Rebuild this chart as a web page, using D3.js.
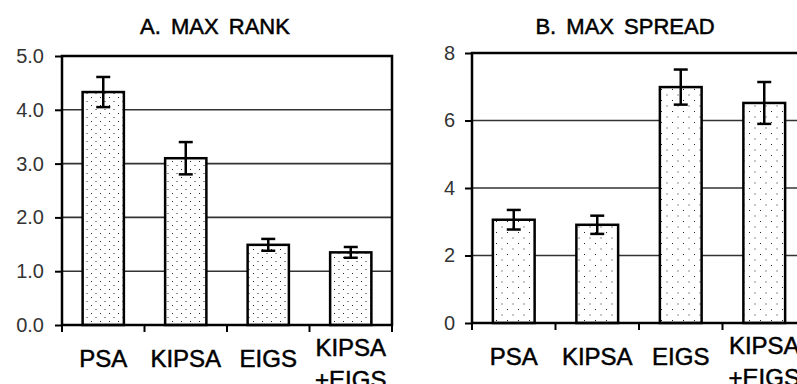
<!DOCTYPE html>
<html>
<head>
<meta charset="utf-8">
<script src="https://cdn.jsdelivr.net/npm/d3@7"></script>
<style>
    body { margin: 0; background: #fff; }
    svg { display: block; font-family: 'Liberation Sans', Arial, sans-serif; }
</style>
</head>
<body>
<div id="chart"></div>
<script>
// data
var categories = ['PSA', 'KIPSA', 'EIGS', 'KIPSA +EIGS'];
var categoryLines = [['PSA'], ['KIPSA'], ['EIGS'], ['KIPSA', '+EIGS']];

var rankMeans = [4.33, 3.10, 1.49, 1.35];
var rankErrors = [0.28, 0.30, 0.11, 0.10];
var rankTicks = [0, 1, 2, 3, 4, 5];

var spreadMeans = [3.06, 2.91, 6.99, 6.52];
var spreadErrors = [0.29, 0.27, 0.52, 0.62];
var spreadTicks = [0, 2, 4, 6, 8];

var svg = d3.select('#chart')
    .append('svg')
    .attr('width', 797)
    .attr('height', 384);

var defs = svg.append('defs');

function dotPattern(id, w, h) {
    var p = defs.append('pattern')
        .attr('id', id)
        .attr('patternUnits', 'userSpaceOnUse')
        .attr('width', w)
        .attr('height', h);
    p.append('rect').attr('width', w).attr('height', h).attr('fill', '#fff');
    p.append('rect').attr('x', 1).attr('y', 1).attr('width', 1).attr('height', 1).attr('fill', '#222');
    p.append('rect').attr('x', 1 + w / 2).attr('y', 1 + h / 2).attr('width', 1).attr('height', 1).attr('fill', '#222');
}
dotPattern('dotsA', 9, 8);
dotPattern('dotsB', 11, 11);

function drawPanel(opts) {
    var x = d3.scaleBand()
        .domain(categories)
        .range([opts.left, opts.right])
        .paddingInner(0.5)
        .paddingOuter(0.25);

    var y = d3.scaleLinear()
        .domain([0, d3.max(opts.ticks)])
        .range([opts.bottom, opts.top]);

    var g = svg.append('g');

    // gridlines
    g.append('g')
        .selectAll('line')
        .data(opts.ticks.slice(1, -1))
        .join('line')
        .attr('x1', opts.left)
        .attr('x2', opts.right)
        .attr('y1', d => y(d))
        .attr('y2', d => y(d))
        .attr('stroke', '#333')
        .attr('stroke-width', 1.6);

    // y axis
    var yAxis = d3.axisLeft(y)
        .tickValues(opts.ticks)
        .tickFormat(opts.format)
        .tickSize(7)
        .tickPadding(opts.tickPad);

    var ya = g.append('g')
        .attr('transform', `translate(${opts.left},0)`)
        .call(yAxis);
    ya.select('.domain').remove();
    ya.selectAll('line').attr('stroke', '#000').attr('stroke-width', 2);
    ya.selectAll('text')
        .attr('fill', '#333')
        .style('font-size', '20px')
        .style('font-family', 'Liberation Sans, Arial, sans-serif');

    // x ticks at category boundaries
    var step = x.step();
    var bounds = d3.range(categories.length + 1).map(i => opts.left + i * step);
    g.append('g')
        .selectAll('line')
        .data(bounds)
        .join('line')
        .attr('x1', d => d)
        .attr('x2', d => d)
        .attr('y1', opts.bottom)
        .attr('y2', opts.bottom + 7)
        .attr('stroke', '#000')
        .attr('stroke-width', 2);

    // bars
    g.append('g')
        .selectAll('rect')
        .data(opts.means)
        .join('rect')
        .attr('x', (d, i) => x(categories[i]))
        .attr('y', d => y(d))
        .attr('width', x.bandwidth())
        .attr('height', d => y(0) - y(d))
        .attr('fill', `url(#${opts.pattern})`)
        .attr('stroke', '#000')
        .attr('stroke-width', 2.5);

    // error bars
    var eb = g.append('g')
        .selectAll('g')
        .data(opts.means)
        .join('g')
        .attr('transform', (d, i) => `translate(${x(categories[i]) + x.bandwidth() / 2},0)`);
    eb.append('line')
        .attr('y1', (d, i) => y(d + opts.errors[i]))
        .attr('y2', (d, i) => y(d - opts.errors[i]))
        .attr('stroke', '#000')
        .attr('stroke-width', 2.5);
    eb.append('line')
        .attr('x1', -7).attr('x2', 7)
        .attr('y1', (d, i) => y(d + opts.errors[i]))
        .attr('y2', (d, i) => y(d + opts.errors[i]))
        .attr('stroke', '#000')
        .attr('stroke-width', 2.5);
    eb.append('line')
        .attr('x1', -7).attr('x2', 7)
        .attr('y1', (d, i) => y(d - opts.errors[i]))
        .attr('y2', (d, i) => y(d - opts.errors[i]))
        .attr('stroke', '#000')
        .attr('stroke-width', 2.5);

    // frame
    g.append('rect')
        .attr('x', opts.left)
        .attr('y', opts.top)
        .attr('width', opts.right - opts.left)
        .attr('height', opts.bottom - opts.top)
        .attr('fill', 'none')
        .attr('stroke', '#000')
        .attr('stroke-width', 2.5);

    // category labels
    var labels = g.append('g')
        .selectAll('text')
        .data(categoryLines)
        .join('text')
        .attr('text-anchor', 'middle')
        .attr('transform', (d, i) => `translate(${x(categories[i]) + x.bandwidth() / 2},0)`)
        .style('font-size', '24px')
        .attr('fill', '#000')
        .attr('stroke', '#000')
        .attr('stroke-width', 0.5);
    labels.selectAll('tspan')
        .data(d => d.map(t => ({ t: t, n: d.length })))
        .join('tspan')
        .attr('x', 0)
        .attr('y', (d, j) => d.n === 1 ? opts.bottom + 42 : opts.bottom + 31 + j * 32)
        .text(d => d.t);

    // title
    g.append('text')
        .attr('x', opts.titleX)
        .attr('y', 34)
        .attr('text-anchor', 'middle')
        .style('font-size', '22px')
        .style('word-spacing', '4px')
        .attr('fill', '#000')
        .attr('stroke', '#000')
        .attr('stroke-width', 0.5)
        .text(opts.title);
}

drawPanel({
    title: 'A. MAX RANK',
    titleX: 215,
    left: 62, right: 392, top: 56, bottom: 325,
    means: rankMeans, errors: rankErrors, ticks: rankTicks,
    format: d3.format('.1f'), tickPad: 11,
    pattern: 'dotsA'
});

drawPanel({
    title: 'B. MAX SPREAD',
    titleX: 625,
    left: 472, right: 806, top: 53, bottom: 323,
    means: spreadMeans, errors: spreadErrors, ticks: spreadTicks,
    format: d3.format('d'), tickPad: 10,
    pattern: 'dotsB'
});
</script>
</body>
</html>
